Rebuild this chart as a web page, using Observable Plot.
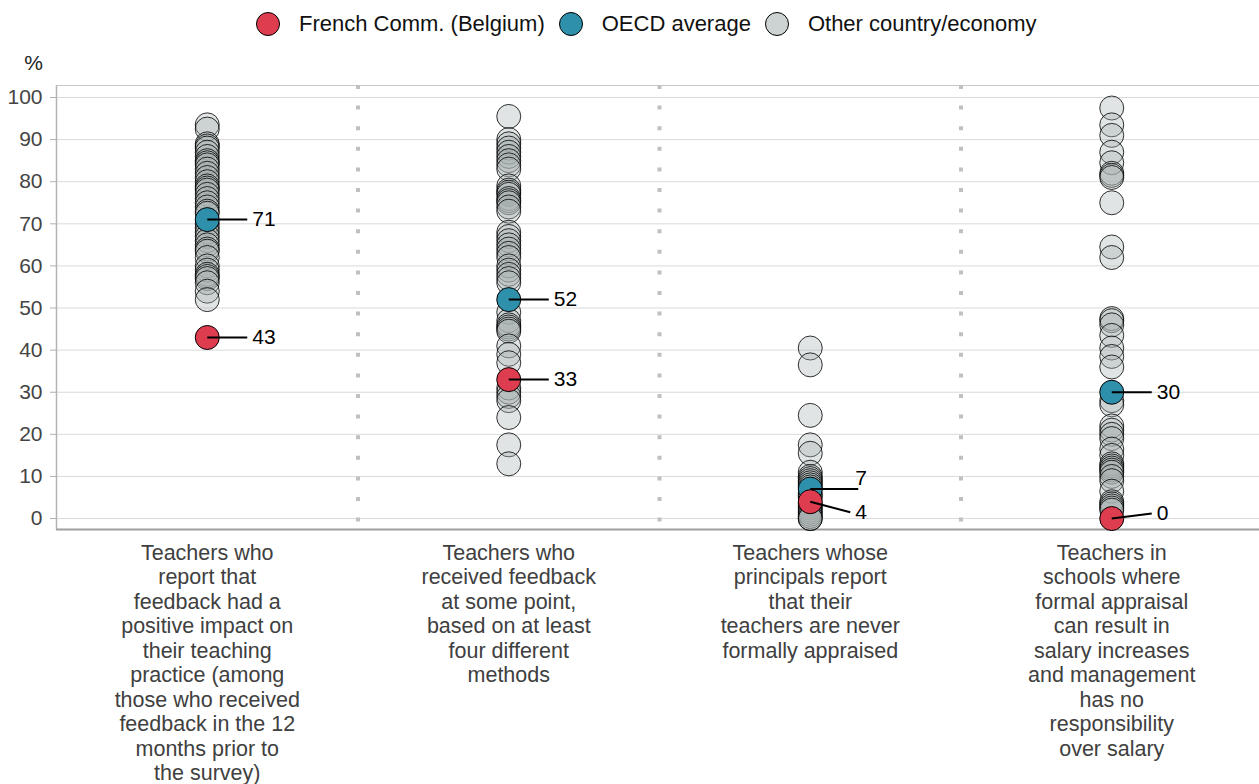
<!DOCTYPE html>
<html><head><meta charset="utf-8">
<script src="https://cdn.jsdelivr.net/npm/d3@7"></script>
<script src="https://cdn.jsdelivr.net/npm/@observablehq/plot@0.6"></script>
<style>
body{margin:0;background:#fff;font-family:"Liberation Sans",Arial,sans-serif;}
#legend{height:48px;display:flex;align-items:center;padding-left:256px;box-sizing:border-box;}
.item{display:flex;align-items:center;font-size:22px;color:#111;margin-right:14px;}
.sw{width:24px;height:24px;border-radius:50%;border:1px solid #000;box-sizing:border-box;margin-right:19px;}
#chart svg{display:block;}
</style></head><body>
<div id="legend"></div><div id="chart"></div>
<script>
const categories = [
  "Teachers who\nreport that\nfeedback had a\npositive impact on\ntheir teaching\npractice (among\nthose who received\nfeedback in the 12\nmonths prior to\nthe survey)",
  "Teachers who\nreceived feedback\nat some point,\nbased on at least\nfour different\nmethods",
  "Teachers whose\nprincipals report\nthat their\nteachers are never\nformally appraised",
  "Teachers in\nschools where\nformal appraisal\ncan result in\nsalary increases\nand management\nhas no\nresponsibility\nover salary"
];
const seriesNames = ["French Comm. (Belgium)", "OECD average", "Other country/economy"];
const seriesColors = ["#de3d50", "#2f90ab", "#cdd3d3"];
const frenchValues = [43, 33, 4, 0];
const oecdValues = [71, 52, 7, 30];
const otherCol1 = [93.5, 92.5, 89, 88.5, 88, 87, 86, 85, 84.5, 84, 83, 82, 81, 80, 79, 78.5, 78, 77, 76, 75, 74, 73, 72.5, 70, 69, 68, 67, 66, 65, 64, 63.5, 62, 60, 59, 58, 57.5, 57, 56, 54, 52];
const otherCol2 = [95.5, 90, 89, 88, 87, 86, 85, 84, 83, 79, 78, 77.5, 77, 76, 75.5, 75, 74, 73, 68, 67, 66, 65, 64, 63, 62, 60, 59, 58, 57, 56, 49, 47, 46, 45.5, 45, 44.5, 41, 39, 37, 31, 30, 29, 28, 24, 17.5, 13];
const otherCol3 = [40.5, 36.5, 24.5, 17.5, 15.5, 11, 10, 9.5, 9, 8.5, 8, 7.5, 6, 5.5, 5, 3.5, 3, 2.5, 2, 1.5, 1, 0.5, 0, 0];
const otherCol4 = [97.5, 93.5, 91, 87, 84.5, 82, 81.5, 81, 75, 64.5, 62, 47.5, 47, 46, 43.5, 40.5, 38.5, 36, 28, 27, 22, 21, 20, 19, 16.5, 15, 13, 12.5, 12, 11.5, 11, 10, 9, 6.5, 4, 3.5, 3, 2.5, 2];
const otherColumns = [otherCol1, otherCol2, otherCol3, otherCol4];
const yTicks = [0, 10, 20, 30, 40, 50, 60, 70, 80, 90, 100];
const yDomain = [-2.6, 102.85];

// legend
const legend = document.getElementById("legend");
seriesNames.forEach((name, i) => {
  const it = document.createElement("div");
  it.className = "item";
  const sw = document.createElement("span");
  sw.className = "sw";
  sw.style.background = seriesColors[i];
  const tx = document.createElement("span");
  tx.textContent = name;
  it.appendChild(sw); it.appendChild(tx);
  legend.appendChild(it);
});

const W = 1259, mL = 56, mR = -3;
const pxPerUnit = (W - mL - mR) / categories.length;
const lineLen = 40 / pxPerUnit, textOff = 45 / pxPerUnit;
const longLen = 48 / pxPerUnit;

const others = otherColumns.flatMap((arr, i) => arr.map(v => ({x: i, y: v})));
const highlights = [];
categories.forEach((c, i) => {
  let fy = frenchValues[i], oy = oecdValues[i];
  let fl = fy, ol = oy, oEnd = oy, oLen = lineLen;
  if (Math.abs(fy - oy) < 6) {
    if (oy >= fy) { ol = oy + 2.5; fl = fy - 2.5; } else { ol = oy - 2.5; fl = fy + 2.5; }
    oLen = longLen;
  }
  if (fl < 1) fl = 1.2;
  highlights.push({x: i, y: oy, ly: ol, ey: oEnd, len: oLen, value: oecdValues[i], color: seriesColors[1]});
  highlights.push({x: i, y: fy, ly: fl, ey: fl, len: lineLen, value: frenchValues[i], color: seriesColors[0]});
});

const chart = Plot.plot({
  width: W, height: 736,
  marginLeft: mL, marginRight: mR, marginTop: 37, marginBottom: 255,
  style: {fontFamily: "Liberation Sans, Arial, sans-serif", background: "#fff"},
  x: {type: "linear", domain: [-0.5, categories.length - 0.5], axis: null},
  y: {domain: yDomain, axis: null},
  marks: [
    Plot.gridY(yTicks, {stroke: "#dadada", strokeOpacity: 1}),
    Plot.ruleY([yDomain[1]], {stroke: "#c8c8c8"}),
    Plot.ruleX([-0.5], {stroke: "#b4b4b4", strokeWidth: 1.5}),
    Plot.ruleX([0.5, 1.5, 2.5], {stroke: "#c0c0c0", strokeWidth: 4, strokeDasharray: "4,16.6"}),
    Plot.ruleY([yDomain[0]], {stroke: "#a0a0a0", strokeWidth: 2}),
    Plot.axisY(yTicks, {tickSize: 6, tickPadding: 8, fontSize: 21, stroke: "#b0b0b0", fill: "#444", label: null}),
    Plot.axisX(d3.range(categories.length), {tickSize: 0, tickPadding: 13, fontSize: 21.5, lineHeight: 1.14, tickFormat: i => categories[i], fill: "#404040", label: null}),
    Plot.text(["%"], {frameAnchor: "top-left", textAnchor: "middle", lineAnchor: "middle", dx: -23, dy: -22, fontSize: 21, fill: "#222"}),
    Plot.dot(others, {x: "x", y: "y", r: 12, fill: "#aab3b3", fillOpacity: 0.35, stroke: "#000", strokeOpacity: 0.8, strokeWidth: 1}),
    Plot.dot(highlights, {x: "x", y: "y", r: 12, fill: d => d.color, stroke: "#000", strokeWidth: 1}),
    Plot.link(highlights, {x1: "x", y1: "y", x2: d => d.x + d.len, y2: "ey", stroke: "#000", strokeWidth: 2}),
    Plot.text(highlights, {x: d => d.x + textOff, y: "ly", text: d => String(d.value), textAnchor: "start", fontSize: 21, fill: "#000"})
  ]
});
document.getElementById("chart").appendChild(chart);
</script>
</body></html>
